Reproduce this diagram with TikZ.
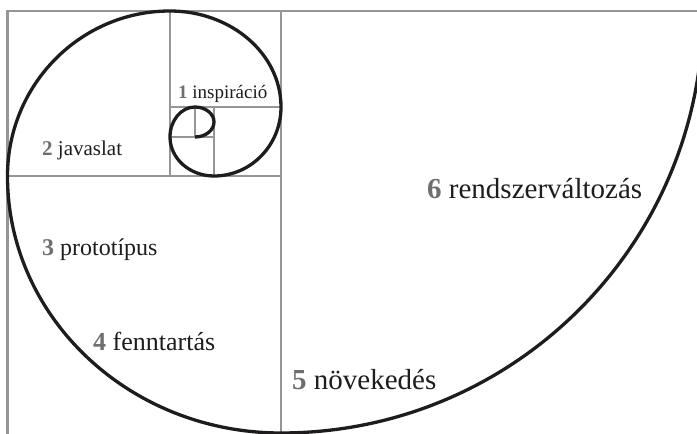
\documentclass[tikz,border=0pt]{standalone}
\usepackage{fontspec}
\setmainfont{Liberation Serif}
\usepackage{tikz}
\usetikzlibrary{positioning}

\definecolor{gridgray}{RGB}{150,150,150}
\definecolor{numgray}{RGB}{110,110,110}
\definecolor{inkblack}{RGB}{30,28,28}

\newcommand{\phasenum}[1]{\textcolor{numgray}{\textbf{#1}}}

\begin{document}
\begin{tikzpicture}[
        x=1pt, y=1pt,
        square/.style={draw=gridgray, line width=2.4pt},
        spiral/.style={draw=inkblack, line width=3.3pt},
        phase/.style={anchor=base west, inner sep=0pt, text=inkblack}
    ]
    \useasboundingbox (0,0) rectangle (697,434);
    \clip (0,0) rectangle (697,434);

    % Squares
    \draw[square] (7.5,-3) rectangle (703,423);
    \draw[square] (281,-3) -- (281,423);
    \draw[square] (7.5,258) -- (281,258);
    \draw[square] (170,258) -- (170,423);
    \draw[square] (170,327) -- (281,327);
    \draw[square] (214,258) -- (214,327);
    \draw[square] (170,297) -- (214,297);
    \draw[square] (195,297) -- (195,327);

    % Spiral
    \draw[spiral] (195,297)
        arc[start angle=-90, end angle=90, x radius=19, y radius=15]
        arc[start angle=90, end angle=180, x radius=25, y radius=30]
        arc[start angle=180, end angle=270, x radius=44, y radius=39]
        arc[start angle=270, end angle=360, x radius=67, y radius=69]
        arc[start angle=0, end angle=90, x radius=111, y radius=96]
        arc[start angle=90, end angle=180, x radius=162.5, y radius=165]
        arc[start angle=180, end angle=270, x radius=273.5, y radius=257]
        arc[start angle=270, end angle=360, radius=422];

    % Labels
    \node[phase, font=\fontsize{19}{19}\selectfont] (inspiracio) at (178,335) {\phasenum{1} inspiráció};
    \node[phase, font=\fontsize{21}{21}\selectfont] (javaslat) at (42,278) {\phasenum{2} javaslat};
    \node[phase, font=\fontsize{24}{24}\selectfont] (prototipus) at (42,178) {\phasenum{3} prototípus};
    \node[phase, font=\fontsize{26}{26}\selectfont] (fenntartas) at (93,83) {\phasenum{4} fenntartás};
    \node[phase, font=\fontsize{29}{29}\selectfont] (novekedes) at (292,44) {\phasenum{5} növekedés};
    \node[phase, font=\fontsize{29}{29}\selectfont] (rendszer) at (427,235) {\phasenum{6} rendszerváltozás};

\end{tikzpicture}
\end{document}
